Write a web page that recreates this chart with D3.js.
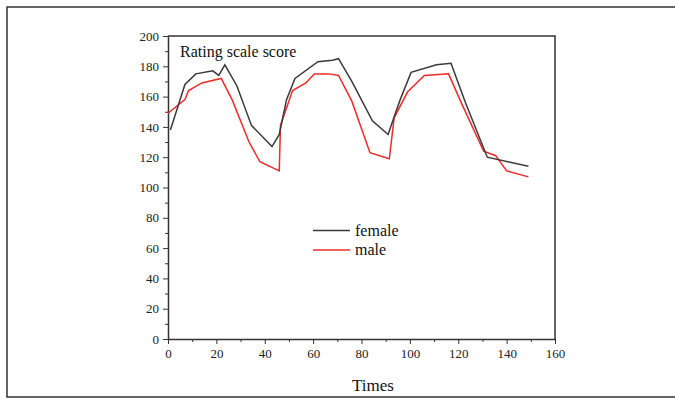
<!DOCTYPE html>
<html>
<head>
<meta charset="utf-8">
<script src="https://cdn.jsdelivr.net/npm/d3@7"></script>
<style>
  body { margin: 0; background: #fff; }
  svg { display: block; }
  .tick text { font-family: "Liberation Serif", "DejaVu Serif", serif; font-size: 13px; fill: #222; }
</style>
</head>
<body>
<div id="chart"></div>
<script>
// data
var femaleTimes  = [1, 7, 11.5, 18.5, 21, 23.5, 28.5, 34.5, 43, 46, 49, 52.5, 62, 68, 70.5, 76, 84.5, 91, 94, 96, 100.5, 111, 117, 123, 132, 149];
var femaleScores = [138, 168, 175, 177, 174, 181, 167, 141, 127, 135, 158, 172, 183, 184, 185, 170, 144, 135, 149, 158, 176, 181, 182, 156, 120, 114];

var maleTimes  = [0, 7, 8.5, 14, 22, 26.5, 33.5, 38, 46, 46.5, 51.5, 57, 60.5, 66.5, 70.5, 76, 83.5, 91.5, 93.5, 99, 106, 116, 121.5, 130.5, 135.5, 140, 149];
var maleScores = [149, 158, 164, 169, 172, 158, 130, 117, 111, 141, 164, 169, 175, 175, 174, 157, 123, 119, 146, 163, 174, 175, 155, 124, 121, 111, 107];

var xTicks = [0, 20, 40, 60, 80, 100, 120, 140, 160];
var yTicks = [0, 20, 40, 60, 80, 100, 120, 140, 160, 180, 200];

var svgWidth = 675;
var svgHeight = 401;

var margin = { top: 36, right: 120, bottom: 62, left: 168 };
var width = 555 - margin.left;
var height = 339 - margin.top;

var svg = d3.select("#chart")
  .append("svg")
  .attr("width", svgWidth)
  .attr("height", svgHeight);

// outer frame
svg.append("rect")
  .attr("x", 7)
  .attr("y", 7)
  .attr("width", 680)
  .attr("height", 390)
  .attr("fill", "none")
  .attr("stroke", "#333")
  .attr("stroke-width", 1.5);

var chartGroup = svg.append("g")
  .attr("transform", `translate(${margin.left}, ${margin.top})`);

var xScale = d3.scaleLinear().domain([0, 160]).range([0, width]);
var yScale = d3.scaleLinear().domain([0, 200]).range([height, 0]);

// minor ticks
chartGroup.append("g")
  .attr("transform", `translate(0, ${height})`)
  .call(d3.axisBottom(xScale).tickValues(d3.range(10, 160, 20)).tickSize(3).tickFormat(""))
  .call(g => g.select(".domain").remove())
  .selectAll("line").attr("stroke", "#333");

chartGroup.append("g")
  .call(d3.axisLeft(yScale).tickValues(d3.range(10, 200, 20)).tickSize(3).tickFormat(""))
  .call(g => g.select(".domain").remove())
  .selectAll("line").attr("stroke", "#333");

// major axes
var xAxis = chartGroup.append("g")
  .attr("transform", `translate(0, ${height})`)
  .call(d3.axisBottom(xScale).tickValues(xTicks).tickSize(5).tickPadding(5).tickSizeOuter(0));

var yAxis = chartGroup.append("g")
  .call(d3.axisLeft(yScale).tickValues(yTicks).tickSize(5).tickPadding(4).tickSizeOuter(0));

[xAxis, yAxis].forEach(function(ax) {
  ax.selectAll("line").attr("stroke", "#333");
  ax.select(".domain").attr("stroke", "#333").attr("stroke-width", 1.5);
});

// top and right frame lines
chartGroup.append("path")
  .attr("d", `M0,0H${width}V${height}`)
  .attr("fill", "none")
  .attr("stroke", "#333")
  .attr("stroke-width", 1.5);

var line = d3.line()
  .x(d => xScale(d[0]))
  .y(d => yScale(d[1]));

var femaleData = femaleTimes.map((t, i) => [t, femaleScores[i]]);
var maleData = maleTimes.map((t, i) => [t, maleScores[i]]);

chartGroup.append("path")
  .datum(maleData)
  .attr("d", line)
  .attr("fill", "none")
  .attr("stroke", "#ee2a2a")
  .attr("stroke-width", 1.5);

chartGroup.append("path")
  .datum(femaleData)
  .attr("d", line)
  .attr("fill", "none")
  .attr("stroke", "#3a3a3a")
  .attr("stroke-width", 1.5);

// inner title
chartGroup.append("text")
  .attr("x", 12)
  .attr("y", 21)
  .attr("font-family", "Liberation Serif, serif")
  .attr("font-size", "16px")
  .attr("fill", "#111")
  .text("Rating scale score");

// legend
var legend = [
  { name: "female", color: "#3a3a3a" },
  { name: "male", color: "#ee2a2a" }
];
var legendGroup = chartGroup.selectAll(".legend")
  .data(legend)
  .enter()
  .append("g")
  .attr("transform", (d, i) => `translate(145, ${194.5 + i * 19.5})`);

legendGroup.append("line")
  .attr("x1", 0)
  .attr("x2", 37)
  .attr("stroke", d => d.color)
  .attr("stroke-width", 1.5);

legendGroup.append("text")
  .attr("x", 42)
  .attr("y", 5)
  .attr("font-family", "Liberation Serif, serif")
  .attr("font-size", "16px")
  .attr("fill", "#111")
  .text(d => d.name);

// x axis title
svg.append("text")
  .attr("x", 373)
  .attr("y", 391)
  .attr("text-anchor", "middle")
  .attr("font-family", "Liberation Serif, serif")
  .attr("font-size", "17px")
  .attr("fill", "#111")
  .text("Times");
</script>
</body>
</html>
